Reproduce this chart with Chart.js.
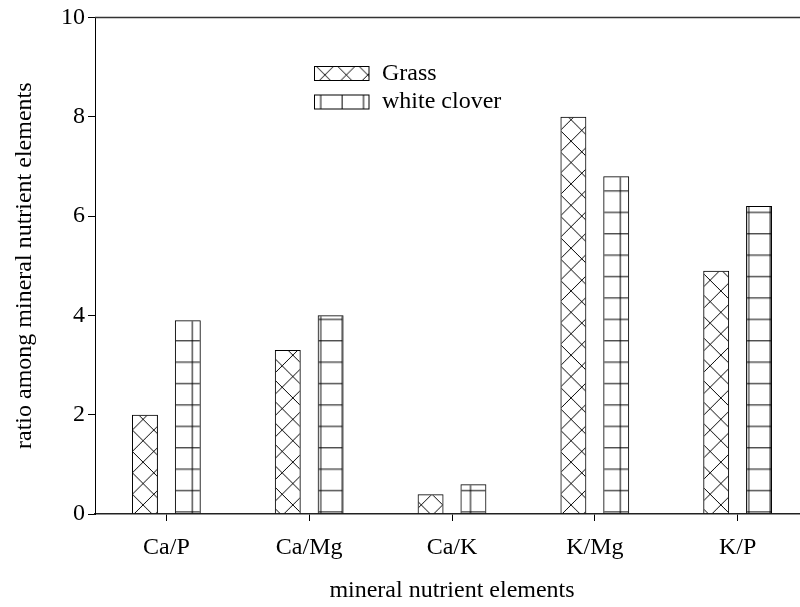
<!DOCTYPE html>
<html>
<head>
<meta charset="utf-8">
<script src="https://cdn.jsdelivr.net/npm/chart.js@4"></script>
<style>
  html, body { margin: 0; padding: 0; background: #fff; overflow: hidden; }
  #wrap { width: 800px; height: 607px; overflow: hidden; position: relative; }
  canvas { display: block; }
</style>
</head>
<body>
<div id="wrap"><canvas id="chart" width="820" height="607"></canvas></div>
<script>
// Dados do gráfico
const categories = ['Ca/P', 'Ca/Mg', 'Ca/K', 'K/Mg', 'K/P'];
const grassValues = [2.0, 3.3, 0.4, 8.0, 4.9];
const cloverValues = [3.9, 4.0, 0.6, 6.8, 6.2];
const seriesNames = ['Grass', 'white clover'];
const yMin = 0, yMax = 10, yStep = 2;

const serif = "'Liberation Serif', 'Times New Roman', serif";
Chart.defaults.font.family = serif;
Chart.defaults.color = '#000';

// Hachuras (período de ~21.4 px, ancoradas na página como no original)
const P = 21.4, TILE = 107;
function makeTile(draw) {
    const c = document.createElement('canvas');
    c.width = TILE; c.height = TILE;
    const g = c.getContext('2d');
    g.strokeStyle = '#000';
    g.lineWidth = 1;
    g.beginPath();
    draw(g);
    g.stroke();
    return c;
}
const crossTile = makeTile(g => {
    for (let i = -6; i <= 11; i++) {
        g.moveTo(P * i, 0); g.lineTo(P * i + TILE, TILE);
        g.moveTo(P * i, 0); g.lineTo(P * i - TILE, TILE);
    }
});
const gridTile = makeTile(g => {
    for (let k = 0; k < 5; k++) {
        g.moveTo(P * k + 0.5, 0); g.lineTo(P * k + 0.5, TILE);
        g.moveTo(0, P * k + 0.5); g.lineTo(TILE, P * k + 0.5);
    }
});
const tmp = document.createElement('canvas').getContext('2d');
function pattern(tile, tx, ty) {
    const p = tmp.createPattern(tile, 'repeat');
    p.setTransform(new DOMMatrix([1, 0, 0, 1, tx, ty]));
    return p;
}
const grassFill = pattern(crossTile, 3.9, 2.0);
const cloverFill = pattern(gridTile, 20.6, 19.3);
const grassLegendFill = pattern(crossTile, 3.9, 10.7);
const cloverLegendFill = pattern(gridTile, 20.6, 6.9);

// Linha superior da moldura
const topLine = {
    id: 'topLine',
    afterDraw(chart) {
        const { ctx, chartArea } = chart;
        ctx.save();
        ctx.strokeStyle = '#333';
        ctx.lineWidth = 1.5;
        ctx.beginPath();
        ctx.moveTo(chartArea.left, chartArea.top);
        ctx.lineTo(chart.width, chartArea.top);
        ctx.stroke();
        ctx.restore();
    }
};

// Legenda dentro da área do gráfico
const innerLegend = {
    id: 'innerLegend',
    afterDraw(chart) {
        const { ctx } = chart;
        const fills = [grassLegendFill, cloverLegendFill];
        ctx.save();
        ctx.font = '24px ' + serif;
        ctx.textBaseline = 'middle';
        seriesNames.forEach((name, i) => {
            const y = 66.5 + i * 28.5;
            ctx.fillStyle = fills[i];
            ctx.fillRect(314.5, y, 54.5, 14);
            ctx.strokeStyle = '#000';
            ctx.lineWidth = 1;
            ctx.strokeRect(314.5, y, 54.5, 14);
            ctx.fillStyle = '#000';
            ctx.fillText(name, 382, y + 7);
        });
        ctx.restore();
    }
};

const ctx = document.getElementById('chart').getContext('2d');
const myChart = new Chart(ctx, {
    type: 'bar',
    data: {
        labels: categories,
        datasets: [
            {
                label: seriesNames[0],
                data: grassValues,
                backgroundColor: grassFill,
                borderColor: '#000',
                borderWidth: 1,
                categoryPercentage: 0.6,
                barPercentage: 0.605
            },
            {
                label: seriesNames[1],
                data: cloverValues,
                backgroundColor: cloverFill,
                borderColor: '#000',
                borderWidth: 1,
                categoryPercentage: 0.6,
                barPercentage: 0.605
            }
        ]
    },
    options: {
        responsive: false,
        animation: false,
        layout: { padding: { top: 15, right: 11, left: 0, bottom: 0 } },
        plugins: {
            legend: { display: false },
            tooltip: { enabled: false }
        },
        scales: {
            x: {
                afterFit(scale) { scale.height = 93; },
                grid: {
                    offset: false,
                    drawOnChartArea: false,
                    drawTicks: true,
                    tickLength: 7,
                    color: '#000'
                },
                border: { display: true, color: '#222', width: 1.5 },
                ticks: { font: { size: 24 }, padding: 12, maxRotation: 0 },
                title: {
                    display: true,
                    text: 'mineral nutrient elements',
                    font: { size: 24 },
                    padding: { top: 0, bottom: 2 }
                }
            },
            y: {
                min: yMin,
                max: yMax,
                afterFit(scale) { scale.width = 95; },
                grid: {
                    drawOnChartArea: false,
                    drawTicks: true,
                    tickLength: 7,
                    color: '#000'
                },
                border: { display: true, color: '#000', width: 1 },
                ticks: { stepSize: yStep, font: { size: 24 }, padding: 3 },
                title: {
                    display: true,
                    text: 'ratio among mineral nutrient elements',
                    font: { size: 24 },
                    padding: { top: 10, bottom: 0 }
                }
            }
        }
    },
    plugins: [topLine, innerLegend]
});
</script>
</body>
</html>
